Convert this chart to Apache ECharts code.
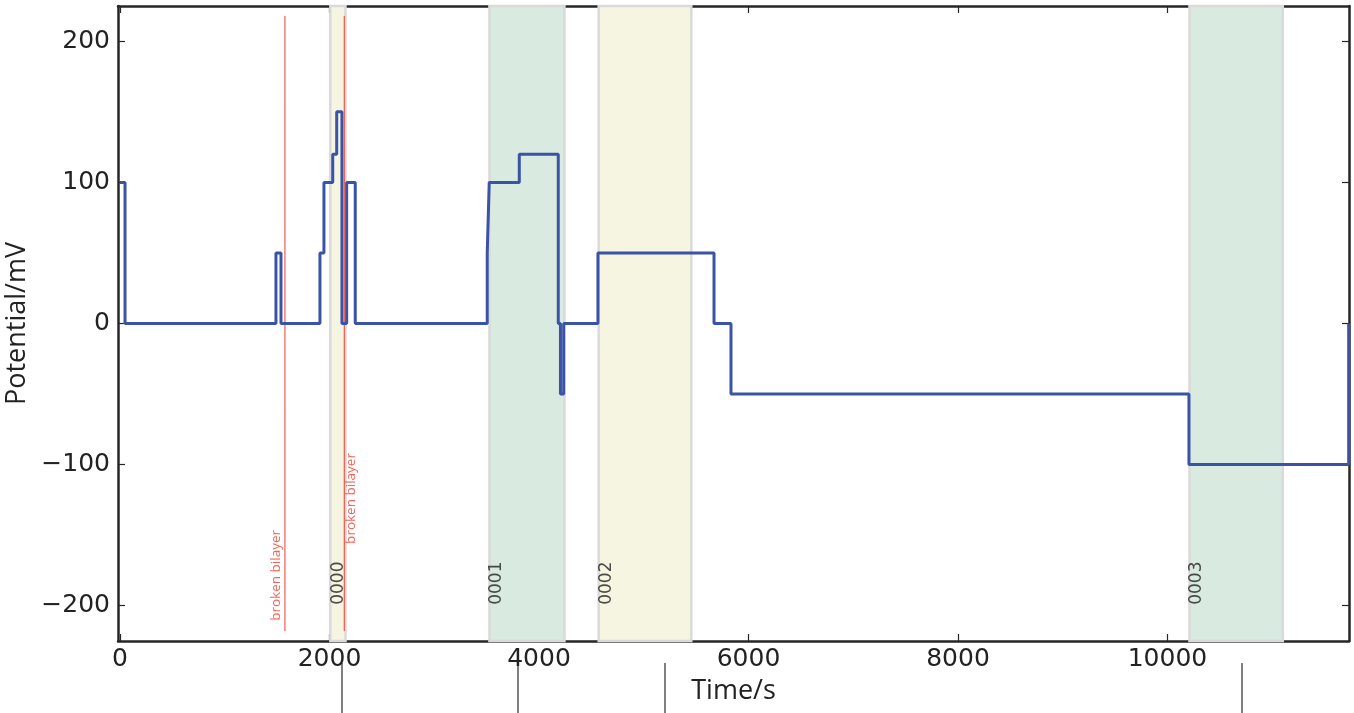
<!DOCTYPE html>
<html>
<head>
<meta charset="utf-8">
<script src="https://cdn.jsdelivr.net/npm/echarts@6/dist/echarts.min.js"></script>
<style>html,body{margin:0;padding:0;background:#fff;}#c{width:1354px;height:713px;}</style>
</head>
<body>
<div id="c"></div>
<script>
// Step trace: value holds from each time until the next time
const stepTimes  = [0, 48, 1489, 1537, 1909, 1947, 2031, 2069, 2119, 2164, 2246, 3506, 3525, 3812, 4184, 4205, 4236, 4563, 5671, 5833, 10205, 11730];
const stepValues = [100, 0, 50, 0, 50, 100, 120, 150, 0, 100, 0, 50, 100, 120, 0, -50, 0, 50, 0, -50, -100, 0];

// Shaded experiment regions
const regionNames  = ['0000', '0001', '0002', '0003'];
const regionStarts = [2008, 3527, 4570, 10210];
const regionEnds   = [2153, 4243, 5454, 11101];
const regionKinds  = ['yellow', 'green', 'yellow', 'green'];
const regionLabelX = [2086, 3599, 4649, 10282];
const regionLabelY = -184;

// Broken bilayer markers
const bilayerTimes  = [1575, 2141];
const bilayerLabelX = [1489, 2210];
const bilayerLabelY = [-178.5, -124];
const bilayerTop = 218, bilayerBottom = -218;

// Extra ticks below the axis
const lowerTicks = [2116, 3800, 5203, 10711];

const xTicks = [0, 2000, 4000, 6000, 8000, 10000];
const yTicks = [-200, -100, 0, 100, 200];
const xMin = -19, xMax = 11733, yMin = -225, yMax = 225;

const fillColors = {green: '#d9eae0', yellow: '#f5f5e1'};
const frame = '#262626';
const tickFont = {fontFamily: 'DejaVu Sans', fontSize: 25, color: '#222'};

const stepData = stepTimes.map((t, i) => [t, stepValues[i]]);

const markAreaData = regionStarts.map((s, i) => [
  {xAxis: s, itemStyle: {color: fillColors[regionKinds[i]], borderColor: '#dadada', borderWidth: 2.5}},
  {xAxis: regionEnds[i]}
]);

const series = [];
series.push({
  type: 'line', xAxisIndex: 0, yAxisIndex: 0, step: 'end', data: stepData,
  showSymbol: false, symbol: 'none', z: 5,
  lineStyle: {color: '#3a53a6', width: 3},
  markArea: {silent: true, data: markAreaData, z: 1}
});
bilayerTimes.forEach((t, i) => {
  series.push({
    type: 'line', xAxisIndex: 0, yAxisIndex: 0, symbol: 'none', z: 4,
    data: [[t, bilayerBottom], [t, bilayerTop]],
    lineStyle: {color: '#f03c30', width: 1}
  });
});
series.push({
  type: 'scatter', xAxisIndex: 0, yAxisIndex: 0, symbolSize: 1, z: 6,
  itemStyle: {color: 'rgba(0,0,0,0)'},
  data: bilayerLabelX.map((x, i) => [x, bilayerLabelY[i]]),
  label: {show: true, position: 'inside', rotate: 90, formatter: 'broken bilayer',
    fontFamily: 'Open Sans', fontSize: 13.5, color: '#f03c30'}
});
series.push({
  type: 'scatter', xAxisIndex: 0, yAxisIndex: 0, symbolSize: 1, z: 6,
  itemStyle: {color: 'rgba(0,0,0,0)'},
  data: regionLabelX.map((x, i) => ({value: [x, regionLabelY], name: regionNames[i]})),
  label: {show: true, position: 'inside', rotate: 90, formatter: p => p.name,
    fontFamily: 'DejaVu Sans', fontSize: 17, color: '#222'}
});

const chart = echarts.init(document.getElementById('c'), null, {renderer: 'canvas'});
chart.setOption({
  animation: false,
  backgroundColor: '#fff',
  grid: {left: 118, right: 5, top: 6, bottom: 72, containLabel: false, outerBoundsMode: 'none'},
  xAxis: [
    {type: 'value', position: 'bottom', min: xMin, max: xMax,
     name: 'Time/s', nameLocation: 'middle', nameGap: 37,
     nameTextStyle: {fontFamily: 'Open Sans', fontSize: 27, color: '#222'},
     axisLine: {show: true, onZero: false, lineStyle: {color: frame, width: 2.5}},
     axisTick: {show: true, inside: true, length: 7, customValues: xTicks, lineStyle: {color: frame, width: 1.2}},
     axisLabel: Object.assign({margin: 6, customValues: xTicks, formatter: v => String(v)}, tickFont),
     splitLine: {show: false}},
    {type: 'value', position: 'top', min: xMin, max: xMax,
     axisLine: {show: true, onZero: false, lineStyle: {color: frame, width: 2.5}},
     axisTick: {show: true, inside: true, length: 7, customValues: xTicks, lineStyle: {color: frame, width: 1.2}},
     axisLabel: {show: false, customValues: xTicks}, splitLine: {show: false}},
    {type: 'value', position: 'bottom', offset: 22, min: xMin, max: xMax,
     axisLine: {show: true, onZero: false, lineStyle: {color: 'rgba(0,0,0,0)', width: 0}},
     axisTick: {show: true, inside: false, length: 52, customValues: lowerTicks, lineStyle: {color: '#555', width: 1.5}},
     axisLabel: {show: false, customValues: lowerTicks}, splitLine: {show: false}}
  ],
  yAxis: [
    {type: 'value', position: 'left', min: yMin, max: yMax,
     name: 'Potential/mV', nameLocation: 'middle', nameGap: 80, nameRotate: 90,
     nameTextStyle: {fontFamily: 'Open Sans', fontSize: 27, color: '#222'},
     axisLine: {show: true, onZero: false, lineStyle: {color: frame, width: 2.5}},
     axisTick: {show: true, inside: true, length: 7, customValues: yTicks, lineStyle: {color: frame, width: 1.2}},
     axisLabel: Object.assign({margin: 8, customValues: yTicks, formatter: v => String(v).replace('-', '\u2212')}, tickFont),
     splitLine: {show: false}},
    {type: 'value', position: 'right', min: yMin, max: yMax,
     axisLine: {show: true, onZero: false, lineStyle: {color: frame, width: 2.5}},
     axisTick: {show: true, inside: true, length: 7, customValues: yTicks, lineStyle: {color: frame, width: 1.2}},
     axisLabel: {show: false}, splitLine: {show: false}}
  ],
  series: series
});
</script>
</body>
</html>
